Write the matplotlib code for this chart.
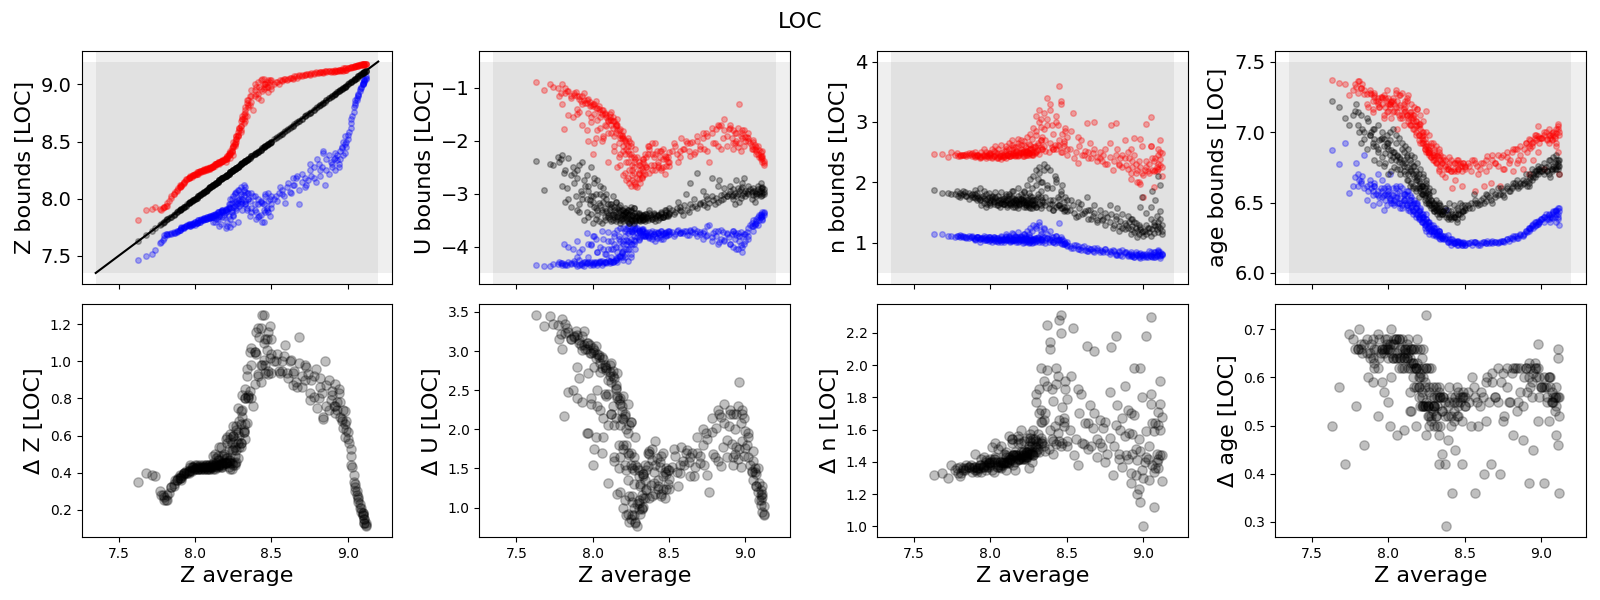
import numpy as np
import matplotlib
matplotlib.use("Agg")
import matplotlib.pyplot as plt

# Z average of each region (shared x for every panel)
z_avg = [7.63, 7.68, 7.72, 7.74, 7.77, 7.79, 7.80, 7.81,
         7.82, 7.83, 7.84, 7.86, 7.87, 7.88, 7.89, 7.90, 7.91, 7.92, 7.93, 7.94,
         7.96, 7.97, 7.98, 7.99, 8.00, 8.01, 8.02, 8.03, 8.04, 8.05, 8.06, 8.07, 8.08, 8.09, 8.10, 8.10,
         8.11, 8.12, 8.12, 8.13, 8.14, 8.14, 8.15, 8.16, 8.16, 8.17, 8.18, 8.18, 8.19, 8.20, 8.20, 8.21, 8.21, 8.22,
         8.23, 8.23, 8.24, 8.24, 8.25, 8.25, 8.26, 8.26, 8.27, 8.27, 8.28, 8.28, 8.29, 8.30, 8.30, 8.31, 8.32, 8.33, 8.34, 8.35,
         8.36, 8.37, 8.38, 8.39, 8.40, 8.41, 8.42, 8.43, 8.44, 8.45, 8.46, 8.47, 8.48, 8.49, 8.50, 8.50,
         8.52, 8.54, 8.55, 8.57, 8.58, 8.60, 8.62, 8.64, 8.65, 8.67, 8.68, 8.70,
         8.72, 8.73, 8.75, 8.76, 8.78, 8.79, 8.81, 8.82, 8.84, 8.85, 8.86, 8.88,
         8.89, 8.90, 8.91, 8.92, 8.92, 8.93, 8.94, 8.95, 8.95, 8.96, 8.97, 8.97, 8.98, 8.98, 8.99, 9.00,
         9.01, 9.02, 9.02, 9.03, 9.04, 9.05, 9.05, 9.06, 9.07, 9.07, 9.08, 9.09, 9.09, 9.10, 9.10, 9.11, 9.11, 9.11, 9.12, 9.12,
         7.78, 7.80, 7.82, 7.84, 7.86, 7.88, 7.90, 7.91, 7.93, 7.95,
         7.96, 7.97, 7.98, 7.99, 8.00, 8.01, 8.02, 8.03, 8.05, 8.06, 8.07, 8.08, 8.09, 8.10,
         8.11, 8.12, 8.13, 8.14, 8.15, 8.15, 8.16, 8.17, 8.18, 8.18, 8.19, 8.20, 8.20, 8.21, 8.22, 8.22,
         8.23, 8.23, 8.24, 8.25, 8.25, 8.26, 8.27, 8.27, 8.28, 8.29, 8.30, 8.30, 8.31, 8.32, 8.33, 8.33, 8.34, 8.35,
         8.36, 8.37, 8.39, 8.40, 8.41, 8.43, 8.44, 8.45, 8.46, 8.47, 8.48, 8.50,
         8.53, 8.56, 8.59, 8.61, 8.63, 8.66, 8.68, 8.70,
         8.72, 8.75, 8.78, 8.80, 8.82, 8.84, 8.86, 8.88,
         8.90, 8.92, 8.94, 8.96, 8.98, 9.00, 9.02, 9.04, 9.05, 9.07, 9.08, 9.10, 9.11, 9.12,
         7.90, 7.91, 7.93, 7.94, 7.96, 7.97, 7.99, 8.00, 8.01, 8.02, 8.03, 8.04,
         8.05, 8.06, 8.07, 8.08, 8.09, 8.10, 8.11, 8.12, 8.13, 8.14, 8.15, 8.16, 8.17, 8.18, 8.19, 8.20,
         8.21, 8.22, 8.23, 8.24, 8.25, 8.26, 8.27, 8.28, 8.29, 8.30, 8.31, 8.32, 8.33, 8.33, 8.34, 8.35,
         8.37, 8.39, 8.41, 8.43, 8.45, 8.46, 8.48, 8.49,
         8.57, 8.64, 8.74, 8.83, 8.93, 8.99, 9.06, 9.10]

z_low = [7.46, 7.50, 7.52, 7.55, 7.61, 7.64, 7.68, 7.69,
         7.69, 7.69, 7.70, 7.70, 7.70, 7.72, 7.72, 7.73, 7.74, 7.74, 7.75, 7.76,
         7.77, 7.76, 7.77, 7.78, 7.77, 7.79, 7.80, 7.80, 7.81, 7.81, 7.82, 7.82, 7.83, 7.84, 7.84, 7.83,
         7.85, 7.86, 7.84, 7.87, 7.86, 7.82, 7.88, 7.87, 7.85, 7.89, 7.88, 7.90, 7.89, 7.90, 7.88, 7.91, 7.80, 7.92,
         7.92, 7.95, 7.90, 7.96, 7.93, 7.78, 7.97, 7.94, 7.98, 7.95, 7.99, 7.96, 8.00, 7.98, 8.02, 8.00, 8.03, 7.95, 8.05, 8.00,
         7.98, 7.92, 8.02, 7.90, 7.88, 7.95, 7.85, 7.97, 7.80, 7.95, 7.88, 7.92, 7.98, 7.85, 7.95, 8.02,
         8.00, 7.98, 8.05, 8.08, 8.02, 8.10, 8.06, 8.18, 8.12, 8.20, 7.95, 8.15,
         8.18, 8.12, 8.25, 8.20, 8.28, 8.15, 8.30, 8.25, 8.40, 8.12, 8.35, 8.22,
         8.32, 8.28, 8.35, 8.40, 8.25, 8.38, 8.30, 8.42, 8.35, 8.45, 8.38, 8.50, 8.40, 8.55, 8.45, 8.52,
         8.58, 8.62, 8.70, 8.72, 8.80, 8.82, 8.86, 8.88, 8.92, 8.90, 8.96, 8.98, 8.97, 9.00, 9.01, 9.03, 9.04, 9.05, 9.06, 9.07,
         7.62, 7.66, 7.68, 7.69, 7.71, 7.71, 7.73, 7.74, 7.75, 7.77,
         7.78, 7.76, 7.78, 7.79, 7.80, 7.79, 7.81, 7.81, 7.82, 7.83, 7.82, 7.84, 7.83, 7.85,
         7.84, 7.86, 7.80, 7.87, 7.84, 7.88, 7.76, 7.88, 7.84, 7.90, 7.86, 7.74, 7.91, 7.89, 7.85, 7.93,
         7.75, 8.00, 7.88, 8.02, 7.85, 8.04, 7.92, 8.06, 7.80, 8.08, 7.95, 8.04, 7.90, 8.08, 7.98, 8.10, 7.92, 8.05,
         7.85, 8.05, 7.95, 7.82, 8.00, 7.86, 7.96, 7.80, 8.02, 7.90, 8.05, 7.92,
         8.02, 8.10, 7.96, 8.14, 8.05, 8.18, 8.08, 8.22,
         8.10, 8.30, 8.18, 8.35, 8.20, 8.42, 8.25, 8.38,
         8.30, 8.36, 8.28, 8.44, 8.48, 8.56, 8.66, 8.76, 8.84, 8.91, 8.94, 9.00, 9.02, 9.05,
         7.73, 7.75, 7.74, 7.76, 7.77, 7.78, 7.78, 7.80, 7.79, 7.81, 7.80, 7.82,
         7.81, 7.83, 7.82, 7.84, 7.83, 7.85, 7.84, 7.80, 7.86, 7.85, 7.82, 7.88, 7.78, 7.89, 7.84, 7.90,
         7.76, 7.95, 7.82, 8.00, 7.86, 8.05, 7.90, 8.08, 7.94, 8.10, 7.96, 8.12, 7.95, 8.06, 7.90, 8.00,
         7.88, 8.02, 7.84, 7.98, 7.90, 8.04, 7.88, 8.00,
         8.04, 8.12, 8.16, 8.28, 8.34, 8.50, 8.86, 9.00]

z_high = [7.81, 7.90, 7.91, 7.93, 7.91, 7.92, 7.93, 7.94,
          7.94, 7.98, 8.02, 8.04, 8.06, 8.08, 8.09, 8.10, 8.12, 8.13, 8.15, 8.17,
          8.18, 8.19, 8.20, 8.21, 8.21, 8.22, 8.22, 8.23, 8.23, 8.24, 8.24, 8.25, 8.25, 8.26, 8.27, 8.26,
          8.28, 8.28, 8.29, 8.29, 8.30, 8.30, 8.31, 8.31, 8.32, 8.32, 8.33, 8.33, 8.34, 8.35, 8.36, 8.37, 8.36, 8.38,
          8.39, 8.40, 8.42, 8.41, 8.45, 8.38, 8.46, 8.48, 8.50, 8.52, 8.55, 8.58, 8.60, 8.64, 8.58, 8.70, 8.66, 8.75, 8.72, 8.80,
          8.82, 8.90, 8.78, 8.95, 8.92, 8.88, 8.98, 8.86, 9.05, 8.96, 9.00, 8.98, 8.93, 9.04, 8.99, 8.96,
          9.00, 9.02, 9.00, 9.03, 9.05, 9.04, 9.06, 9.05, 9.07, 9.06, 9.08, 9.07,
          9.08, 9.09, 9.08, 9.10, 9.09, 9.11, 9.10, 9.11, 9.10, 9.12, 9.11, 9.12,
          9.11, 9.12, 9.11, 9.12, 9.13, 9.12, 9.13, 9.12, 9.13, 9.13, 9.12, 9.14, 9.13, 9.14, 9.13, 9.14,
          9.14, 9.15, 9.14, 9.15, 9.15, 9.16, 9.16, 9.16, 9.16, 9.17, 9.17, 9.17, 9.18, 9.17, 9.18, 9.18, 9.17, 9.18, 9.18, 9.18,
          7.90, 7.93, 7.96, 8.01, 8.04, 8.07, 8.10, 8.11, 8.15, 8.17,
          8.18, 8.20, 8.19, 8.21, 8.22, 8.23, 8.23, 8.24, 8.25, 8.25, 8.26, 8.26, 8.27, 8.27,
          8.28, 8.29, 8.30, 8.30, 8.31, 8.32, 8.30, 8.33, 8.33, 8.34, 8.35, 8.32, 8.36, 8.37, 8.38, 8.40,
          8.36, 8.42, 8.44, 8.46, 8.50, 8.48, 8.55, 8.52, 8.55, 8.62, 8.68, 8.60, 8.72, 8.70, 8.78, 8.68, 8.84, 8.86,
          8.90, 8.85, 9.00, 8.98, 8.92, 9.04, 8.94, 9.05, 9.00, 9.02, 8.98, 9.04,
          9.02, 9.04, 9.05, 9.05, 9.06, 9.07, 9.07, 9.08,
          9.08, 9.09, 9.10, 9.10, 9.11, 9.11, 9.12, 9.12,
          9.12, 9.12, 9.13, 9.13, 9.14, 9.14, 9.15, 9.15, 9.16, 9.17, 9.17, 9.18, 9.17, 9.18,
          8.12, 8.11, 8.14, 8.16, 8.18, 8.19, 8.21, 8.22, 8.22, 8.23, 8.24, 8.24,
          8.25, 8.26, 8.26, 8.27, 8.27, 8.28, 8.28, 8.29, 8.30, 8.30, 8.31, 8.32, 8.32, 8.33, 8.34, 8.35,
          8.35, 8.38, 8.40, 8.42, 8.46, 8.50, 8.55, 8.56, 8.62, 8.64, 8.70, 8.74, 8.80, 8.72, 8.86, 8.82,
          8.95, 8.90, 9.02, 8.96, 9.00, 8.98, 9.04, 9.02,
          9.04, 9.06, 9.09, 9.11, 9.12, 9.13, 9.16, 9.18]

u_low = [-4.35, -4.36, -4.37, -4.33, -4.33, -4.32, -4.34, -3.95,
         -4.33, -4.34, -4.00, -4.31, -4.05, -4.32, -4.33, -4.20, -4.34, -4.33, -4.31, -4.30,
         -4.31, -3.95, -4.32, -4.30, -3.80, -4.31, -4.29, -4.10, -4.32, -4.30, -4.28, -4.05, -4.30, -4.31, -4.25, -3.90,
         -4.28, -4.20, -4.30, -4.05, -4.27, -3.95, -4.25, -4.10, -4.22, -3.85, -4.18, -4.00, -4.12, -3.90, -4.08, -3.80, -4.15, -3.95,
         -3.90, -3.75, -4.05, -3.70, -3.85, -4.20, -3.72, -3.95, -3.68, -3.80, -3.66, -3.90, -3.75, -3.70, -3.85, -3.72, -3.68, -3.80, -3.74, -3.78,
         -3.78, -3.82, -3.74, -3.80, -3.76, -3.72, -3.84, -3.75, -3.78, -3.70, -3.76, -3.74, -3.72, -3.78, -3.76, -3.70,
         -3.72, -3.76, -3.70, -3.74, -3.72, -3.70, -3.78, -3.68, -3.72, -3.74, -3.70, -3.76,
         -3.75, -3.70, -3.78, -3.60, -3.82, -3.74, -3.80, -3.70, -3.86, -3.72, -3.90, -3.76,
         -3.82, -3.95, -3.76, -4.00, -3.70, -3.85, -3.78, -4.05, -3.74, -3.90, -3.72, -3.98, -3.80, -4.10, -3.76, -3.90,
         -3.72, -3.65, -3.80, -3.60, -3.55, -3.62, -3.50, -3.58, -3.48, -3.55, -3.45, -3.50, -3.40, -3.45, -3.38, -3.42, -3.35, -3.50, -3.36, -3.40,
         -4.30, -4.32, -4.35, -4.30, -4.33, -4.28, -4.36, -4.10, -4.34, -4.30,
         -4.32, -4.20, -4.34, -3.98, -4.33, -4.30, -3.85, -4.34, -4.28, -3.70, -4.32, -4.15, -4.30, -4.05,
         -4.32, -3.90, -4.30, -3.75, -4.25, -4.00, -4.30, -3.80, -4.20, -3.65, -4.10, -3.95, -4.25, -3.70, -4.05, -3.88,
         -4.28, -3.62, -3.92, -3.70, -4.15, -3.66, -3.95, -3.60, -4.05, -3.64, -3.88, -3.70, -3.82, -3.66, -3.78, -3.70, -3.80, -3.74,
         -3.80, -3.72, -3.86, -3.76, -3.90, -3.74, -3.82, -3.70, -3.85, -3.74, -3.78, -3.72,
         -3.80, -3.68, -3.75, -3.70, -3.78, -3.66, -3.80, -3.72,
         -3.85, -3.62, -3.90, -3.70, -3.95, -3.68, -3.88, -3.75,
         -3.95, -3.70, -4.05, -3.80, -4.00, -3.76, -3.85, -3.62, -3.70, -3.52, -3.60, -3.40, -3.48, -3.34,
         -3.90, -4.25, -4.05, -4.36, -3.75, -4.30, -3.95, -4.34, -3.80, -4.32, -4.10, -4.30,
         -4.00, -4.34, -3.85, -4.30, -4.15, -3.72, -4.28, -4.05, -4.30, -3.80, -4.22, -3.68, -4.18, -3.90, -4.20, -3.65,
         -4.20, -3.66, -4.05, -3.62, -3.95, -3.70, -3.88, -3.64, -3.82, -3.68, -3.75, -3.70, -3.78, -3.66, -3.80, -3.72,
         -3.84, -3.70, -3.80, -3.72, -3.86, -3.74, -3.80, -3.70,
         -3.75, -3.70, -3.80, -3.92, -3.74, -3.95, -3.60, -3.44]

u_mid = [-2.38, -2.93, -2.44, -2.46, -2.30, -2.35, -2.27, -2.60,
         -2.55, -2.90, -3.10, -2.65, -2.50, -2.80, -3.05, -2.70, -3.20, -2.95, -3.00, -2.75,
         -3.10, -2.85, -3.20, -3.05, -3.15, -3.25, -3.00, -3.30, -3.18, -3.22, -3.35, -3.05, -3.28, -3.32, -3.40, -3.20,
         -3.30, -3.40, -3.25, -3.38, -3.45, -3.30, -3.35, -3.42, -3.28, -3.36, -3.44, -3.32, -3.40, -3.46, -3.30, -3.38, -3.42, -3.35,
         -3.40, -3.45, -3.38, -3.48, -3.42, -3.30, -3.50, -3.40, -3.46, -3.36, -3.48, -3.42, -3.44, -3.50, -3.38, -3.46, -3.44, -3.40, -3.48, -3.45,
         -3.42, -3.46, -3.40, -3.44, -3.38, -3.46, -3.42, -3.40, -3.45, -3.38, -3.44, -3.40, -3.35, -3.42, -3.38, -3.36,
         -3.30, -3.35, -3.28, -3.25, -3.32, -3.22, -3.30, -3.20, -3.26, -3.24, -3.28, -3.18,
         -3.15, -3.22, -3.10, -3.18, -3.05, -3.12, -3.08, -3.15, -3.02, -3.10, -3.00, -3.05,
         -3.00, -2.95, -3.05, -2.92, -3.02, -2.98, -3.05, -2.90, -3.00, -2.95, -3.08, -2.92, -3.02, -2.88, -2.98, -2.95,
         -2.98, -2.95, -3.00, -2.92, -2.96, -3.02, -2.90, -2.94, -2.98, -3.05, -2.92, -2.96, -3.00, -2.90, -2.94, -2.98, -2.88, -3.02, -2.92, -2.96,
         -2.40, -2.85, -3.15, -2.32, -3.25, -2.60, -3.30, -2.45, -3.10, -2.85,
         -3.35, -2.95, -3.12, -3.38, -3.05, -2.70, -3.28, -3.40, -2.85, -3.30, -3.15, -3.45, -3.00, -3.36,
         -3.48, -3.20, -3.50, -3.25, -3.52, -3.15, -3.44, -3.30, -3.50, -3.22, -3.48, -3.38, -3.52, -3.28, -3.46, -3.34,
         -3.52, -3.30, -3.55, -3.25, -3.50, -3.40, -3.55, -3.28, -3.52, -3.42, -3.50, -3.36, -3.52, -3.44, -3.40, -3.48, -3.52, -3.38,
         -3.50, -3.30, -3.48, -3.36, -3.52, -3.40, -3.46, -3.35, -3.44, -3.30, -3.42, -3.28,
         -3.38, -3.15, -3.40, -3.00, -3.35, -3.10, -2.60, -3.20,
         -2.95, -3.25, -2.70, -3.20, -2.85, -3.12, -2.90, -3.05,
         -2.85, -3.10, -2.75, -3.15, -2.80, -3.05, -2.85, -3.10, -2.95, -3.00, -2.85, -3.05, -2.90, -3.00,
         -2.55, -3.35, -2.40, -3.50, -2.65, -3.45, -2.50, -3.55, -2.80, -3.48, -2.75, -3.52,
         -3.00, -3.55, -2.90, -3.50, -3.10, -3.45, -3.20, -3.52, -3.05, -3.40, -3.15, -3.48, -3.25, -3.55, -3.30, -3.40,
         -3.35, -3.50, -3.30, -3.55, -3.32, -3.52, -3.28, -3.50, -3.36, -3.48, -3.40, -3.50, -3.42, -3.50, -3.38, -3.46,
         -3.36, -3.48, -3.40, -3.50, -3.36, -3.44, -3.30, -3.40,
         -3.30, -2.80, -3.05, -2.75, -3.20, -2.70, -3.15, -2.80]

u_high = [-0.89, -1.04, -0.92, -0.98, -1.00, -1.10, -0.93, -1.78,
          -1.10, -1.05, -1.52, -1.16, -1.55, -1.13, -1.08, -1.40, -1.20, -1.25, -1.30, -1.22,
          -1.28, -2.00, -1.35, -1.32, -2.25, -1.30, -1.38, -1.80, -1.40, -1.45, -1.50, -1.90, -1.48, -1.55, -1.62, -1.85,
          -1.55, -1.60, -1.45, -1.75, -1.62, -1.90, -1.68, -1.70, -1.80, -2.05, -1.78, -1.95, -1.88, -2.10, -1.95, -2.25, -1.98, -2.15,
          -2.20, -2.40, -2.00, -2.55, -2.30, -2.10, -2.65, -2.45, -2.78, -2.50, -2.85, -2.35, -2.70, -2.60, -2.45, -2.80, -2.52, -2.40, -2.62, -2.30,
          -2.25, -2.10, -2.45, -2.05, -2.30, -2.55, -2.20, -2.40, -2.20, -2.52, -2.35, -2.28, -2.48, -2.30, -2.40, -2.22,
          -2.20, -2.10, -2.25, -2.30, -1.95, -2.15, -2.05, -2.28, -2.02, -2.22, -2.00, -2.10,
          -1.95, -2.15, -1.90, -2.40, -1.85, -2.05, -1.78, -2.10, -1.70, -1.95, -1.58, -1.90,
          -1.78, -1.70, -1.95, -1.80, -2.05, -1.85, -2.00, -1.75, -2.12, -1.30, -2.20, -1.90, -1.95, -1.85, -2.10, -1.92,
          -1.92, -2.00, -1.85, -2.05, -2.10, -2.02, -2.15, -2.08, -2.20, -2.12, -2.25, -2.18, -2.30, -2.22, -2.35, -2.28, -2.40, -2.32, -2.45, -2.38,
          -1.15, -1.30, -1.00, -1.06, -1.18, -1.10, -1.15, -1.45, -1.15, -1.28,
          -1.22, -1.48, -1.26, -1.65, -1.34, -1.50, -1.95, -1.38, -1.55, -2.00, -1.42, -1.70, -1.52, -1.60,
          -1.50, -1.70, -1.62, -2.10, -1.72, -1.85, -1.58, -2.30, -1.88, -2.45, -1.95, -2.20, -1.82, -2.60, -2.05, -2.40,
          -1.95, -2.70, -2.25, -2.85, -2.05, -2.75, -2.30, -2.60, -2.15, -2.88, -2.40, -2.72, -2.55, -2.68, -2.35, -2.58, -2.45, -2.50,
          -2.10, -2.60, -2.25, -2.45, -2.05, -2.50, -2.30, -2.55, -2.15, -2.62, -2.35, -2.48,
          -2.05, -2.40, -2.15, -2.00, -2.20, -2.25, -1.90, -2.15,
          -1.85, -2.20, -1.75, -2.05, -1.70, -2.15, -1.80, -2.10,
          -1.75, -2.15, -1.85, -2.05, -1.80, -2.00, -1.95, -2.15, -1.98, -2.25, -2.10, -2.30, -2.20, -2.42,
          -1.50, -1.15, -1.70, -1.10, -1.80, -1.20, -1.55, -1.30, -2.05, -1.25, -1.60, -1.35,
          -1.75, -1.42, -1.95, -1.50, -1.72, -2.40, -1.60, -1.85, -1.55, -2.20, -1.70, -2.50, -1.80, -2.25, -1.90, -2.65,
          -2.00, -2.75, -2.10, -2.80, -2.25, -2.55, -2.40, -2.82, -2.30, -2.62, -2.45, -2.70, -2.35, -2.65, -2.25, -2.50,
          -2.15, -2.55, -2.25, -2.45, -2.20, -2.50, -2.30, -2.40,
          -2.20, -2.05, -1.85, -1.72, -2.05, -1.80, -2.15, -2.28]

n_low = [1.15, 1.14, 1.12, 1.12, 1.10, 1.11, 1.09, 1.12,
         1.11, 1.10, 1.08, 1.11, 1.09, 1.10, 1.08, 1.07, 1.09, 1.10, 1.06, 1.08,
         1.08, 1.05, 1.07, 1.10, 1.04, 1.06, 1.09, 1.03, 1.08, 1.05, 1.07, 1.02, 1.06, 1.04, 1.09, 1.05,
         1.06, 1.08, 1.04, 1.07, 1.05, 1.03, 1.07, 1.09, 1.04, 1.06, 1.05, 1.08, 1.03, 1.06, 1.10, 1.05, 1.07, 1.02,
         1.05, 1.08, 1.03, 1.06, 1.04, 1.10, 1.02, 1.05, 1.07, 1.00, 1.04, 1.06, 1.02, 1.08, 1.03, 1.05, 1.01, 1.07, 1.04, 1.10,
         1.05, 1.08, 1.02, 1.06, 1.04, 1.10, 1.00, 1.05, 1.02, 1.07, 1.04, 0.98, 1.03, 1.00, 0.95, 1.02,
         0.95, 0.92, 0.96, 0.94, 0.90, 0.93, 0.88, 0.92, 0.90, 0.87, 0.91, 0.88,
         0.88, 0.86, 0.90, 0.85, 0.87, 0.84, 0.86, 0.82, 0.85, 0.80, 0.88, 0.83,
         0.84, 0.80, 0.82, 0.78, 0.85, 0.80, 0.76, 0.82, 0.84, 0.79, 0.77, 0.81, 0.83, 0.78, 0.80, 0.76,
         0.80, 0.78, 0.82, 0.76, 0.80, 0.84, 0.78, 0.82, 0.80, 0.76, 0.84, 0.80, 0.78, 0.82, 0.86, 0.80, 0.84, 0.78, 0.82, 0.80,
         1.12, 1.13, 1.10, 1.09, 1.08, 1.12, 1.07, 1.10, 1.06, 1.08,
         1.05, 1.09, 1.07, 1.03, 1.10, 1.06, 1.04, 1.08, 1.02, 1.05, 1.10, 1.04, 1.07, 1.12,
         1.06, 1.12, 1.02, 1.08, 1.04, 1.14, 1.05, 1.09, 1.02, 1.10, 1.06, 1.04, 1.12, 1.00, 1.08, 1.15,
         1.02, 1.12, 1.06, 1.14, 1.00, 1.10, 1.04, 1.20, 1.02, 1.08, 1.25, 1.04, 1.10, 1.30, 1.06, 1.15, 1.02, 1.22,
         1.00, 1.15, 1.05, 1.10, 1.02, 1.12, 1.04, 1.32, 1.00, 1.06, 0.98, 0.96,
         0.92, 0.96, 0.88, 0.94, 0.86, 0.90, 0.85, 0.92,
         0.84, 0.90, 0.82, 0.88, 0.80, 0.86, 0.78, 0.84,
         0.78, 0.82, 0.76, 0.80, 0.74, 0.82, 0.76, 0.86, 0.78, 0.84, 0.76, 0.88, 0.74, 0.82,
         1.05, 1.10, 1.02, 1.08, 1.12, 1.04, 1.09, 1.06, 1.02, 1.10, 1.07, 1.03,
         1.08, 1.04, 1.12, 1.06, 1.02, 1.14, 1.05, 1.10, 1.03, 1.16, 1.04, 1.12, 1.02, 1.18, 1.06, 1.10,
         1.04, 1.15, 1.08, 1.20, 1.02, 1.25, 1.05, 1.30, 1.06, 1.28, 1.08, 1.35, 1.05, 1.20, 1.10, 1.25,
         1.08, 1.20, 1.02, 1.12, 1.04, 1.10, 0.98, 1.00,
         0.90, 0.86, 0.84, 0.80, 0.78, 0.80, 0.76, 0.84]

n_mid = [1.88, 1.82, 1.83, 1.81, 1.80, 1.78, 1.82, 1.79,
         1.80, 1.84, 1.78, 1.82, 1.79, 1.76, 1.75, 1.80, 1.77, 1.74, 1.72, 1.76,
         1.74, 1.70, 1.72, 1.68, 1.71, 1.73, 1.69, 1.75, 1.67, 1.70, 1.66, 1.72, 1.69, 1.65, 1.71, 1.68,
         1.70, 1.66, 1.72, 1.64, 1.68, 1.75, 1.69, 1.66, 1.71, 1.62, 1.67, 1.73, 1.64, 1.69, 1.72, 1.66, 1.70, 1.68,
         1.65, 1.62, 1.70, 1.66, 1.72, 1.60, 1.68, 1.58, 1.64, 1.75, 1.62, 1.70, 1.66, 1.60, 1.72, 2.05, 1.65, 1.58, 1.68, 2.20,
         1.62, 1.90, 1.58, 1.70, 1.65, 1.55, 2.10, 1.60, 1.75, 1.62, 1.80, 1.58, 1.68, 1.55, 1.60, 1.52,
         1.55, 1.62, 1.50, 1.45, 1.58, 1.48, 1.52, 1.40, 1.55, 1.44, 1.50, 1.38,
         1.45, 1.38, 1.50, 1.42, 1.35, 1.48, 1.30, 1.40, 1.28, 1.36, 1.25, 1.32,
         1.30, 1.25, 1.35, 1.22, 1.40, 1.28, 1.18, 1.32, 1.25, 1.20, 1.15, 1.30, 1.22, 1.26, 1.18, 1.12,
         1.20, 1.30, 1.15, 1.25, 1.18, 1.40, 1.12, 1.22, 1.16, 1.30, 1.28, 1.22, 1.45, 1.35, 1.18, 1.52, 1.25, 1.40, 1.30, 1.20,
         1.85, 1.76, 1.86, 1.78, 1.72, 1.80, 1.74, 1.83, 1.70, 1.78,
         1.66, 1.80, 1.64, 1.76, 1.62, 1.78, 1.68, 1.74, 1.62, 1.70, 1.66, 1.72, 1.64, 1.78,
         1.60, 1.80, 1.62, 1.74, 1.64, 1.85, 1.60, 1.70, 1.58, 1.78, 1.62, 1.72, 1.66, 1.76, 1.60, 1.84,
         1.60, 1.75, 1.68, 1.82, 1.62, 1.78, 1.58, 1.90, 1.64, 1.70, 1.95, 1.60, 1.80, 2.15, 1.62, 1.75, 2.00, 1.68,
         1.75, 2.25, 1.65, 1.90, 1.55, 2.05, 1.62, 1.72, 1.58, 1.95, 1.52, 1.70,
         1.70, 1.42, 1.65, 1.50, 1.75, 1.40, 1.62, 1.35,
         1.55, 1.30, 1.62, 1.25, 1.45, 1.20, 1.48, 1.22,
         1.45, 1.15, 1.35, 1.10, 1.60, 1.20, 1.50, 1.25, 1.60, 1.35, 1.70, 1.28, 1.95, 1.15,
         1.88, 1.70, 1.90, 1.62, 1.85, 1.60, 1.82, 1.66, 1.76, 1.64, 1.84, 1.62,
         1.78, 1.60, 1.84, 1.64, 1.74, 1.80, 1.62, 1.78, 1.66, 1.86, 1.60, 1.72, 1.68, 1.90, 1.64, 1.80,
         1.70, 1.85, 1.62, 1.95, 1.66, 2.05, 1.70, 2.10, 1.62, 2.20, 1.75, 2.25, 1.85, 2.00, 1.70, 2.30,
         1.95, 2.20, 1.70, 2.00, 1.62, 1.85, 1.60, 1.75,
         1.68, 1.55, 1.40, 1.58, 1.40, 1.75, 1.85, 2.10]

n_high = [2.47, 2.47, 2.42, 2.50, 2.45, 2.44, 2.46, 2.45,
          2.46, 2.45, 2.44, 2.48, 2.47, 2.44, 2.45, 2.42, 2.43, 2.46, 2.44, 2.42,
          2.45, 2.40, 2.44, 2.47, 2.46, 2.41, 2.43, 2.45, 2.48, 2.42, 2.44, 2.38, 2.45, 2.43, 2.52, 2.40,
          2.45, 2.47, 2.44, 2.49, 2.46, 2.55, 2.45, 2.44, 2.48, 2.50, 2.46, 2.60, 2.45, 2.48, 2.70, 2.47, 2.50, 2.44,
          2.48, 2.50, 2.46, 2.52, 2.49, 2.46, 2.55, 2.62, 2.47, 2.45, 2.58, 2.50, 2.48, 2.85, 2.52, 2.53, 2.47, 3.05, 2.56, 2.60,
          2.52, 2.95, 2.50, 3.20, 2.58, 2.55, 2.62, 2.56, 2.95, 2.60, 3.35, 2.50, 2.68, 2.90, 2.45, 2.55,
          2.55, 3.15, 2.40, 2.32, 2.60, 2.45, 2.52, 2.40, 2.65, 2.48, 3.00, 2.42,
          2.40, 2.35, 2.55, 2.30, 2.42, 2.95, 2.36, 2.45, 2.30, 2.40, 2.25, 2.70,
          2.28, 2.22, 2.40, 2.05, 2.55, 2.25, 2.74, 2.30, 2.16, 2.20, 2.00, 2.35, 1.98, 2.25, 2.15, 1.76,
          2.20, 2.96, 2.25, 2.18, 2.30, 2.60, 3.08, 2.20, 1.92, 2.35, 2.20, 2.25, 2.18, 2.45, 2.22, 2.70, 2.28, 2.38, 2.26, 2.48,
          2.48, 2.44, 2.46, 2.47, 2.45, 2.48, 2.44, 2.46, 2.42, 2.45,
          2.43, 2.50, 2.45, 2.42, 2.48, 2.55, 2.44, 2.60, 2.40, 2.45, 2.48, 2.42, 2.52, 2.56,
          2.46, 2.55, 2.44, 2.62, 2.48, 2.58, 2.45, 2.52, 2.44, 2.66, 2.48, 2.50, 2.55, 2.44, 2.52, 2.62,
          2.45, 2.58, 2.52, 2.64, 2.48, 2.55, 2.50, 2.72, 2.46, 2.58, 2.78, 2.50, 2.62, 3.00, 2.58, 2.70, 2.55, 2.88,
          2.70, 3.40, 2.65, 2.95, 2.55, 3.10, 2.62, 3.60, 2.50, 2.80, 2.60, 2.75,
          2.85, 2.50, 2.70, 2.45, 2.98, 2.40, 2.55, 2.35,
          2.50, 2.30, 2.65, 2.20, 2.98, 2.28, 2.45, 2.40,
          2.50, 2.15, 2.45, 2.00, 2.72, 2.12, 2.35, 2.15, 2.60, 2.18, 2.40, 2.30, 2.50, 2.10,
          2.50, 2.45, 2.40, 2.50, 2.55, 2.44, 2.48, 2.46, 2.42, 2.52, 2.50, 2.40,
          2.56, 2.44, 2.62, 2.46, 2.42, 2.60, 2.45, 2.66, 2.44, 2.70, 2.48, 2.58, 2.46, 2.72, 2.50, 2.62,
          2.50, 2.68, 2.52, 2.75, 2.48, 2.80, 2.55, 2.90, 2.60, 3.10, 2.65, 3.20, 2.70, 2.92, 2.75, 3.15,
          3.05, 3.30, 2.80, 3.00, 2.70, 3.30, 2.65, 2.85,
          2.75, 2.50, 2.45, 2.55, 2.35, 2.60, 2.40, 2.55]

age_low = [6.87, 6.77, 6.92, 6.57, 6.62, 6.78, 6.70, 6.66,
           6.65, 6.69, 6.84, 6.62, 6.58, 6.63, 6.60, 6.55, 6.62, 6.56, 6.58, 6.54,
           6.58, 6.55, 6.52, 6.55, 6.60, 6.53, 6.56, 6.50, 6.52, 6.54, 6.57, 6.50, 6.53, 6.48, 6.52, 6.56,
           6.50, 6.48, 6.55, 6.46, 6.50, 6.52, 6.47, 6.45, 6.49, 6.44, 6.46, 6.50, 6.42, 6.44, 6.40, 6.42, 6.45, 6.40,
           6.40, 6.38, 6.36, 6.34, 6.35, 6.42, 6.32, 6.36, 6.33, 6.30, 6.31, 6.34, 6.30, 6.28, 6.32, 6.27, 6.29, 6.30, 6.26, 6.25,
           6.26, 6.25, 6.45, 6.27, 6.23, 6.22, 6.24, 6.21, 6.22, 6.20, 6.23, 6.21, 6.20, 6.22, 6.21, 6.20,
           6.21, 6.22, 6.20, 6.22, 6.21, 6.20, 6.22, 6.21, 6.23, 6.22, 6.21, 6.22,
           6.21, 6.22, 6.23, 6.22, 6.24, 6.23, 6.25, 6.24, 6.26, 6.25, 6.27, 6.26,
           6.28, 6.30, 6.29, 6.32, 6.30, 6.31, 6.33, 6.32, 6.35, 6.33, 6.34, 6.36, 6.35, 6.37, 6.36, 6.38,
           6.38, 6.40, 6.36, 6.42, 6.40, 6.38, 6.41, 6.36, 6.42, 6.39, 6.43, 6.40, 6.44, 6.45, 6.42, 6.46, 6.40, 6.38, 6.44, 6.34,
           6.68, 6.62, 6.64, 6.60, 6.52, 6.66, 6.58, 6.64, 6.55, 6.60,
           6.54, 6.60, 6.56, 6.48, 6.58, 6.52, 6.50, 6.55, 6.60, 6.54, 6.50, 6.62, 6.46, 6.56,
           6.52, 6.58, 6.45, 6.55, 6.48, 6.52, 6.44, 6.50, 6.42, 6.46, 6.48, 6.40, 6.44, 6.38, 6.36, 6.42,
           6.36, 6.40, 6.32, 6.38, 6.30, 6.36, 6.28, 6.34, 6.30, 6.27, 6.30, 6.32, 6.26, 6.28, 6.25, 6.30, 6.24, 6.26,
           6.24, 6.26, 6.22, 6.24, 6.20, 6.23, 6.21, 6.22, 6.20, 6.22, 6.21, 6.20,
           6.21, 6.22, 6.20, 6.21, 6.22, 6.21, 6.23, 6.22,
           6.22, 6.23, 6.24, 6.25, 6.26, 6.25, 6.28, 6.27,
           6.30, 6.32, 6.34, 6.36, 6.35, 6.38, 6.40, 6.38, 6.42, 6.40, 6.44, 6.36, 6.42, 6.46,
           6.48, 6.62, 6.70, 6.50, 6.66, 6.45, 6.62, 6.56, 6.70, 6.52, 6.60, 6.48,
           6.62, 6.50, 6.58, 6.46, 6.60, 6.52, 6.56, 6.48, 6.58, 6.44, 6.54, 6.42, 6.52, 6.40, 6.50, 6.38,
           6.46, 6.36, 6.42, 6.34, 6.38, 6.32, 6.36, 6.30, 6.34, 6.30, 6.32, 6.28, 6.30, 6.26, 6.28, 6.25,
           6.24, 6.22, 6.24, 6.21, 6.23, 6.22, 6.20, 6.21,
           6.22, 6.21, 6.23, 6.26, 6.32, 6.36, 6.40, 6.44]

age_mid = [7.22, 7.18, 7.10, 7.05, 7.12, 7.20, 7.14, 7.00,
           7.12, 7.02, 6.95, 7.10, 7.08, 6.98, 7.00, 6.92, 6.95, 6.90, 6.88, 6.94,
           6.96, 6.90, 6.85, 6.92, 6.88, 6.84, 6.87, 6.82, 6.86, 6.80, 6.83, 6.79, 6.81, 6.78, 6.80, 6.76,
           6.78, 6.75, 6.82, 6.70, 6.74, 6.72, 6.72, 6.70, 6.76, 6.68, 6.70, 6.66, 6.68, 6.65, 6.62, 6.60, 6.64, 6.62,
           6.62, 6.58, 6.60, 6.55, 6.57, 6.66, 6.52, 6.56, 6.50, 6.54, 6.48, 6.52, 6.50, 6.46, 6.48, 6.45, 6.44, 6.48, 6.42, 6.44,
           6.44, 6.42, 6.40, 6.45, 6.40, 6.38, 6.42, 6.40, 6.42, 6.38, 6.45, 6.42, 6.40, 6.44, 6.46, 6.45,
           6.48, 6.50, 6.46, 6.52, 6.50, 6.49, 6.53, 6.51, 6.55, 6.52, 6.50, 6.54,
           6.55, 6.56, 6.58, 6.54, 6.60, 6.58, 6.60, 6.62, 6.62, 6.60, 6.64, 6.63,
           6.64, 6.65, 6.62, 6.66, 6.64, 6.68, 6.66, 6.70, 6.68, 6.72, 6.70, 6.72, 6.70, 6.74, 6.72, 6.75,
           6.72, 6.74, 6.70, 6.75, 6.72, 6.70, 6.76, 6.68, 6.74, 6.72, 6.76, 6.74, 6.78, 6.76, 6.80, 6.78, 6.74, 6.76, 6.80, 6.70,
           7.15, 7.05, 6.92, 7.00, 6.88, 6.98, 6.90, 7.02, 6.86, 6.95,
           6.82, 6.95, 6.78, 6.90, 6.92, 7.00, 6.80, 6.86, 6.92, 6.84, 6.82, 6.74, 6.88, 6.72,
           6.70, 6.84, 6.66, 6.80, 6.64, 6.78, 6.62, 6.76, 6.60, 6.72, 6.66, 6.60, 6.70, 6.58, 6.62, 6.56,
           6.56, 6.68, 6.54, 6.62, 6.50, 6.58, 6.48, 6.56, 6.52, 6.46, 6.50, 6.44, 6.48, 6.42, 6.46, 6.40, 6.44, 6.42,
           6.44, 6.46, 6.38, 6.50, 6.40, 6.48, 6.40, 6.36, 6.42, 6.50, 6.44, 6.48,
           6.46, 6.56, 6.48, 6.52, 6.50, 6.54, 6.58, 6.56,
           6.60, 6.55, 6.62, 6.58, 6.64, 6.66, 6.62, 6.66,
           6.70, 6.62, 6.74, 6.68, 6.76, 6.72, 6.78, 6.72, 6.80, 6.74, 6.82, 6.74, 6.80, 6.76,
           7.02, 6.80, 7.05, 6.78, 7.00, 6.76, 6.98, 6.70, 6.94, 6.72, 7.02, 6.75,
           6.98, 6.74, 6.96, 6.70, 6.92, 6.86, 6.90, 6.66, 6.88, 6.62, 6.84, 6.60, 6.82, 6.58, 6.78, 6.54,
           6.74, 6.56, 6.70, 6.52, 6.64, 6.50, 6.60, 6.46, 6.58, 6.44, 6.52, 6.46, 6.50, 6.44, 6.48, 6.42,
           6.46, 6.42, 6.44, 6.40, 6.46, 6.42, 6.48, 6.44,
           6.50, 6.56, 6.60, 6.64, 6.70, 6.74, 6.80, 6.84]

age_high = [7.37, 7.35, 7.34, 7.26, 7.30, 7.32, 7.36, 7.36,
            7.31, 7.34, 7.30, 7.27, 7.18, 7.28, 7.27, 7.14, 7.25, 7.22, 7.20, 7.18,
            7.24, 7.12, 7.18, 7.22, 7.15, 7.20, 7.21, 7.14, 7.20, 7.18, 7.22, 7.12, 7.19, 7.10, 7.16, 7.05,
            7.15, 7.12, 7.22, 7.08, 7.14, 7.05, 7.10, 7.08, 7.12, 7.02, 7.08, 7.00, 7.05, 7.04, 6.98, 7.02, 7.06, 6.97,
            7.00, 6.92, 6.95, 6.88, 6.90, 7.15, 6.86, 6.88, 6.85, 6.87, 6.82, 6.90, 6.84, 6.82, 6.86, 6.79, 6.83, 6.88, 6.76, 6.78,
            6.82, 6.80, 6.74, 6.74, 6.78, 6.72, 6.60, 6.74, 6.78, 6.72, 6.80, 6.76, 6.62, 6.78, 6.75, 6.74,
            6.78, 6.72, 6.80, 6.58, 6.76, 6.74, 6.78, 6.72, 6.83, 6.64, 6.80, 6.78,
            6.76, 6.62, 6.84, 6.74, 6.82, 6.78, 6.86, 6.72, 6.88, 6.80, 6.84, 6.80,
            6.88, 6.92, 6.86, 6.70, 6.90, 6.89, 6.92, 6.93, 6.80, 6.96, 6.94, 6.98, 6.97, 7.04, 6.92, 6.96,
            6.96, 6.98, 6.74, 7.00, 6.95, 6.98, 6.92, 6.96, 6.99, 6.94, 6.98, 6.96, 6.97, 6.99, 6.90, 7.02, 6.86, 7.04, 7.00, 6.70,
            7.34, 7.28, 7.31, 7.27, 7.20, 7.30, 7.22, 7.26, 7.24, 7.25,
            7.20, 7.26, 7.24, 7.14, 7.24, 7.18, 7.10, 7.22, 7.28, 7.02, 7.18, 7.26, 7.12, 7.20,
            7.18, 7.24, 7.10, 7.12, 7.14, 7.05, 7.10, 7.12, 7.04, 7.08, 7.16, 6.98, 7.06, 6.92, 7.00, 6.96,
            6.98, 6.94, 6.90, 6.86, 6.92, 6.90, 6.86, 6.84, 6.92, 6.80, 6.84, 6.88, 6.78, 6.84, 6.82, 6.72, 6.80, 6.70,
            6.80, 6.68, 6.76, 6.82, 6.72, 6.78, 6.66, 6.80, 6.74, 6.78, 6.72, 6.76,
            6.76, 6.80, 6.70, 6.78, 6.62, 6.76, 6.84, 6.78,
            6.84, 6.74, 6.86, 6.80, 6.88, 6.78, 6.90, 6.74,
            6.92, 6.95, 6.90, 6.98, 6.86, 6.96, 7.00, 6.94, 7.02, 6.95, 7.00, 6.92, 7.06, 6.98,
            7.16, 7.28, 7.22, 7.18, 7.25, 7.10, 7.30, 7.20, 7.20, 7.22, 7.24, 7.15,
            7.30, 7.14, 7.26, 7.10, 7.28, 7.14, 7.22, 7.12, 7.26, 7.06, 7.20, 7.02, 7.18, 6.98, 7.16, 6.94,
            7.12, 6.92, 7.08, 6.88, 7.00, 6.86, 6.98, 6.82, 6.92, 6.80, 6.90, 6.78, 6.86, 6.74, 6.84, 6.78,
            6.76, 6.74, 6.80, 6.72, 6.78, 6.74, 6.76, 6.78,
            6.78, 6.80, 6.82, 6.88, 6.94, 6.96, 6.98, 7.02]

# grid limits of each parameter (shaded boxes)
z_range = (7.35, 9.2)
u_range = (-4.5, -0.5)
n_range = (0.5, 4.0)
age_range = (6.0, 7.5)

names = ["Z", "U", "n", "age"]
lows = [z_low, u_low, n_low, age_low]
mids = [z_avg, u_mid, n_mid, age_mid]
highs = [z_high, u_high, n_high, age_high]
ranges = [z_range, u_range, n_range, age_range]

x = np.array(z_avg)

fig, axes = plt.subplots(2, 4, figsize=(16, 6), sharex="col")
fig.subplots_adjust(left=0.051, right=0.991, top=0.915, bottom=0.105,
                    wspace=0.28, hspace=0.09)
fig.suptitle("LOC", fontsize=16)

for i, name in enumerate(names):
    ax = axes[0, i]
    lo, mid, hi = np.array(lows[i]), np.array(mids[i]), np.array(highs[i])
    ax.axvspan(*z_range, color="gray", alpha=0.12, lw=0)
    ax.axhspan(*ranges[i], color="gray", alpha=0.12, lw=0)
    ax.scatter(x, hi, s=16, c="r", alpha=0.3, lw=1)
    ax.scatter(x, lo, s=16, c="b", alpha=0.3, lw=1)
    ax.scatter(x, mid, s=16, c="k", alpha=0.3, lw=1)
    if name == "Z":
        ax.plot(z_range, z_range, "k-", lw=1.5)
    ax.set_ylabel("{} bounds [LOC]".format(name), fontsize=16)
    ax.tick_params(axis="y", labelsize=14)
    ax.tick_params(axis="x", labelbottom=False)

    ax2 = axes[1, i]
    ax2.scatter(x, hi - lo, s=45, c="k", alpha=0.25, lw=1)
    ax2.set_ylabel("\u0394 {} [LOC]".format(name), fontsize=16)
    ax2.set_xlabel("Z average", fontsize=16)
    ax2.set_xticks([7.5, 8.0, 8.5, 9.0])

fig.savefig("out.png", dpi=100)
